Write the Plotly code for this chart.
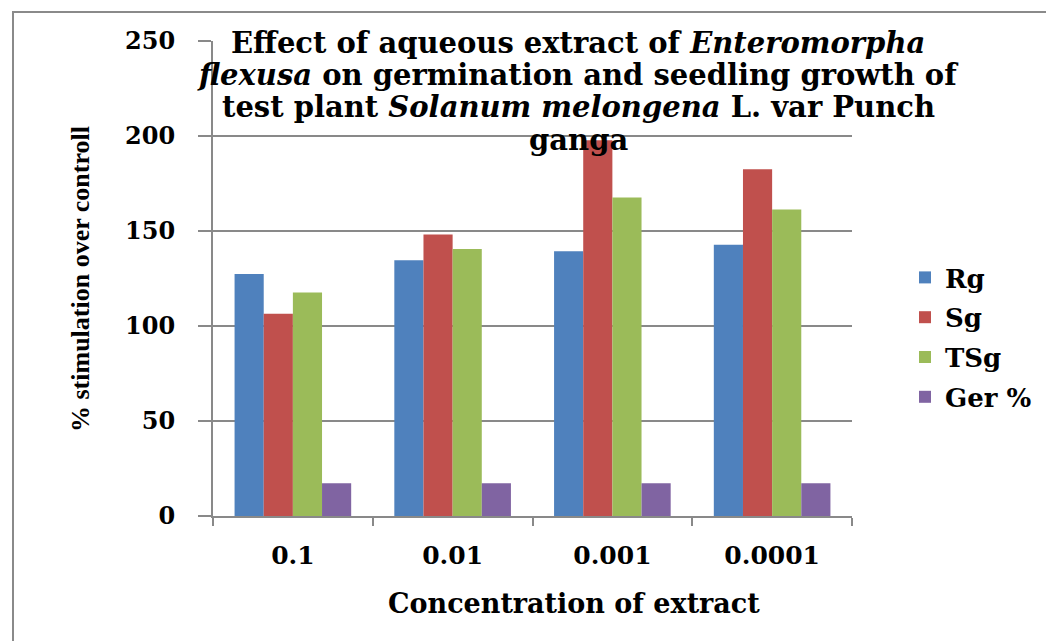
import plotly.graph_objects as go

categories = ["0.1", "0.01", "0.001", "0.0001"]
rg = [127.4, 134.6, 139.3, 142.8]
sg = [106.5, 148.1, 197.7, 182.5]
tsg = [117.6, 140.5, 167.6, 161.3]
ger = [17.2, 17.2, 17.2, 17.2]

series = [
    ("Rg", rg, "#4F81BD"),
    ("Sg", sg, "#C0504D"),
    ("TSg", tsg, "#9BBB59"),
    ("Ger %", ger, "#8064A2"),
]

y_ticks = [0, 50, 100, 150, 200, 250]

title_lines = [
    "Effect of aqueous extract of <i>Enteromorpha</i>",
    "<i>flexusa</i> on germination and seedling growth of",
    "test plant <i>Solanum melongena</i> L. var Punch",
    "ganga",
]

# page offset of the figure inside the browser (body margin)
OFF = 8
W, H = 1054, 641
L, T = 213 - OFF, 41 - OFF
pw, ph = 639, 475
R, B = W - L - pw, H - T - ph

def px(x):
    return (x - OFF - L) / pw

def py(y):
    return (T + ph - (y - OFF)) / ph

WIDE = "DejaVu Serif, serif"
TIMES = "Liberation Serif, Times New Roman, serif"
GRID = "#898989"

fig = go.Figure()
for name, vals, col in series:
    fig.add_trace(go.Bar(
        x=categories, y=vals, name=name, legendgroup=name,
        marker=dict(color=col, line=dict(width=0)),
    ))

annotations = []
for line, yc in zip(title_lines, [43, 75, 107, 140]):
    annotations.append(dict(
        text=line, xref="paper", yref="paper", x=px(578), y=py(yc),
        xanchor="center", yanchor="middle", showarrow=False,
        font=dict(family=WIDE, size=29, color="black", weight="bold"),
    ))
annotations += [
    dict(
        text="Concentration of extract",
        xref="paper", yref="paper", x=px(574), y=py(603),
        xanchor="center", yanchor="middle", showarrow=False,
        font=dict(family=WIDE, size=27, color="black", weight="bold"),
    ),
    dict(
        text="% stimulation over controll",
        xref="paper", yref="paper", x=px(80), y=py(279),
        xanchor="center", yanchor="middle", showarrow=False, textangle=-90,
        font=dict(family=TIMES, size=26, color="black", weight="bold"),
    ),
]

fig.update_layout(
    width=W, height=H,
    margin=dict(l=L, r=R, t=T, b=B, pad=0),
    paper_bgcolor="white", plot_bgcolor="white",
    barmode="group", bargap=0.27, bargroupgap=0,
    font=dict(family=WIDE, color="black"),
    showlegend=True,
    legend=dict(
        x=px(905), y=py(254), xanchor="left", yanchor="top",
        font=dict(family=WIDE, size=26, color="black", weight="bold"),
        traceorder="grouped", tracegroupgap=3,
        bgcolor="rgba(0,0,0,0)",
    ),
    xaxis=dict(
        type="category", showgrid=False, showline=True, linecolor=GRID, linewidth=2,
        ticks="outside", tickson="boundaries", ticklen=8, tickwidth=2, tickcolor=GRID,
        tickfont=dict(family=WIDE, size=25, color="black", weight="bold"),
        ticklabelstandoff=16,
        zeroline=False,
    ),
    yaxis=dict(
        range=[0, 250], tickvals=y_ticks, ticktext=[str(v) for v in y_ticks],
        showgrid=True, gridcolor=GRID, gridwidth=2,
        showline=True, linecolor=GRID, linewidth=2,
        ticks="outside", ticklen=13, tickwidth=2, tickcolor=GRID,
        tickfont=dict(family=WIDE, size=24, color="black", weight="bold"),
        ticklabelstandoff=18,
        zeroline=False,
    ),
    shapes=[dict(
        type="rect", xref="paper", yref="paper",
        x0=px(13), x1=1.6, y0=-1.0, y1=py(12),
        line=dict(color="#8a8a8a", width=2), fillcolor="rgba(0,0,0,0)", layer="below",
    )],
    annotations=annotations,
)

fig.write_html("out.html")
